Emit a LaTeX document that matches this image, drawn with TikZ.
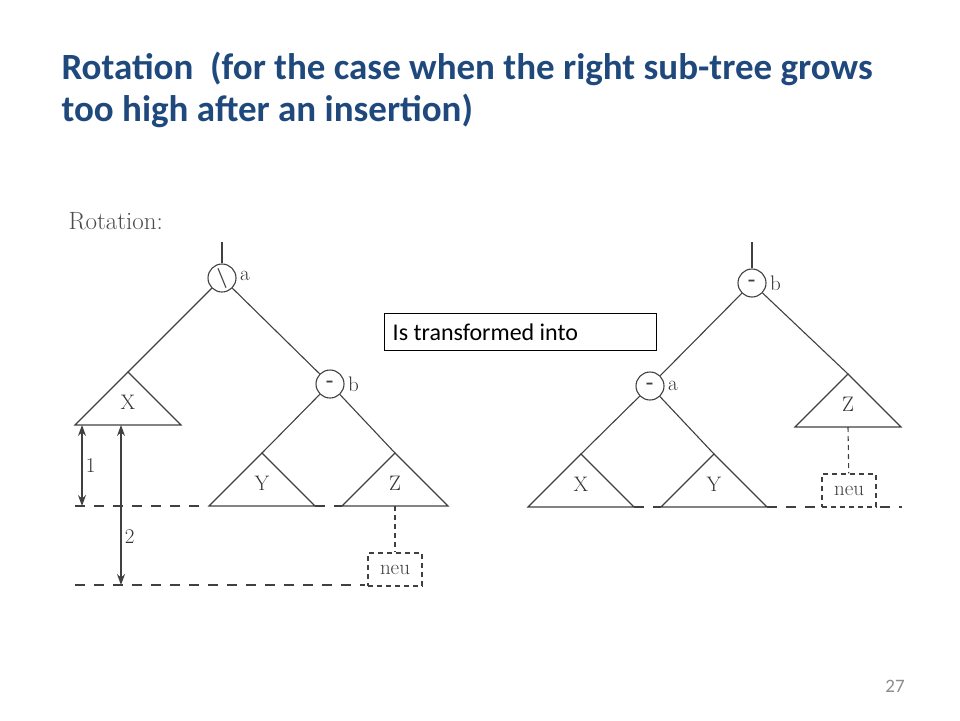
\documentclass[tikz,border=0pt]{standalone}
\usepackage{fontspec}
\setsansfont{Carlito}
\usetikzlibrary{arrows.meta, positioning, calc}

\definecolor{titleblue}{RGB}{31,73,125}
\tikzset{
  knot/.style={draw, black!75, line width=1.1pt, circle, minimum size=28pt, inner sep=0pt, font=\bfseries\fontsize{20}{20}\selectfont},
  lbl/.style={font=\fontsize{21}{21}\selectfont, text=black!80},
  edge/.style={draw, black!75, line width=1.1pt},
  level/.style={draw, black!75, line width=1.1pt, dash pattern=on 10pt off 9pt},
  newbox/.style={draw, black!75, line width=1.1pt, dash pattern=on 5pt off 4pt, minimum width=54pt, minimum height=33pt, inner sep=0pt, font=\fontsize{21}{21}\selectfont}
}
% subtree: name, apex x, apex y, label
\newcommand{\subtree}[4]{
  \coordinate (#1) at (#2,#3);
  \draw[edge] (#1) -- ++(-53,53) coordinate (#1l) -- ++(106,0) coordinate (#1r) -- cycle;
  \node[lbl] (#1t) at ($(#1)+(0,30)$) {#4};
  \coordinate (#1m) at ($(#1)+(0,53)$);
}

\begin{document}
\begin{tikzpicture}[x=1pt, y=-1pt]
  \useasboundingbox (0,0) rectangle (960,720);

  % heading
  \node[anchor=base west, font=\sffamily\bfseries\fontsize{37}{42}\selectfont, text=titleblue, align=left] (title) at (58,121)
    {Rotation\ \ (for the case when the right sub-tree grows\\too high after an insertion)};
  \node[anchor=base west, lbl, font=\fontsize{25}{25}\selectfont, text=black!70] (rot) at (65,229) {Rotation:};
  \node[draw, line width=1.5pt, minimum width=272pt, minimum height=37pt, inner sep=0pt] (into) at (520.5,332) {};
  \node[anchor=west, font=\sffamily\fontsize{24}{24}\selectfont] (intotxt) at (into.west) {\ Is transformed into};
  \node[font=\sffamily\fontsize{19}{19}\selectfont, text=black!45] (page) at (895,686) {27};

  % before the rotation
  \coordinate (topA) at (222,242);
  \node[knot] (a1) at (222,278) {\textbackslash};
  \node[lbl, right=0pt of a1, yshift=2pt] (a1n) {a};
  \node[knot] (b1) at (330,384) {-};
  \node[lbl, right=0pt of b1] (b1n) {b};
  \subtree{X1}{128}{372}{X}
  \subtree{Y1}{262}{453}{Y}
  \subtree{Z1}{395}{453}{Z}
  \draw[edge] (topA) -- (a1);
  \draw[edge] (a1) -- (X1);
  \draw[edge] (a1) -- (b1);
  \draw[edge] (b1) -- (Y1);
  \draw[edge] (b1) -- (Z1);
  \coordinate (lev1a) at (75,506);
  \coordinate (lev1b) at (200,506);
  \draw[level] (lev1a) -- (lev1b);
  \draw[level] (Y1r) -- (Z1l);
  \coordinate (lev2a) at (75,585);
  \coordinate (lev2b) at (365,585);
  \draw[level] (lev2a) -- (lev2b);
  \coordinate (h1t) at (82,425);
  \coordinate (h1b) at (82,506);
  \coordinate (h2t) at (121,425);
  \coordinate (h2b) at (121,585);
  \draw[edge, {Stealth[length=11pt, width=8pt]}-{Stealth[length=11pt, width=8pt]}] (h1t) -- node[lbl, right] {1} (h1b);
  \draw[edge, {Stealth[length=11pt, width=8pt]}-{Stealth[length=11pt, width=8pt]}] (h2t) -- node[lbl, right, pos=0.7] {2} (h2b);
  \node[newbox] (neu1) at (395,569.5) {neu};
  \draw[edge, dash pattern=on 5pt off 4pt] (Z1m) -- (neu1);

  % after the rotation
  \coordinate (topB) at (752,242);
  \node[knot] (b2) at (752,283) {-};
  \node[lbl, right=0pt of b2] (b2n) {b};
  \node[knot] (a2) at (650,386) {-};
  \node[lbl, right=0pt of a2] (a2n) {a};
  \subtree{Z2}{848}{374}{Z}
  \subtree{X2}{581}{454}{X}
  \subtree{Y2}{714}{454}{Y}
  \draw[edge] (topB) -- (b2);
  \draw[edge] (b2) -- (a2);
  \draw[edge] (b2) -- (Z2);
  \draw[edge] (a2) -- (X2);
  \draw[edge] (a2) -- (Y2);
  \node[newbox] (neu2) at (849,490.5) {neu};
  \draw[edge, dash pattern=on 5pt off 4pt] (Z2m) -- (neu2);
  \coordinate (lev3a) at (820,507);
  \coordinate (lev3b) at (880,507);
  \coordinate (lev3c) at (902,507);
  \draw[level] (X2r) -- (Y2l);
  \draw[level] (Y2r) -- (lev3a);
  \draw[level] (lev3b) -- (lev3c);
\end{tikzpicture}
\end{document}
